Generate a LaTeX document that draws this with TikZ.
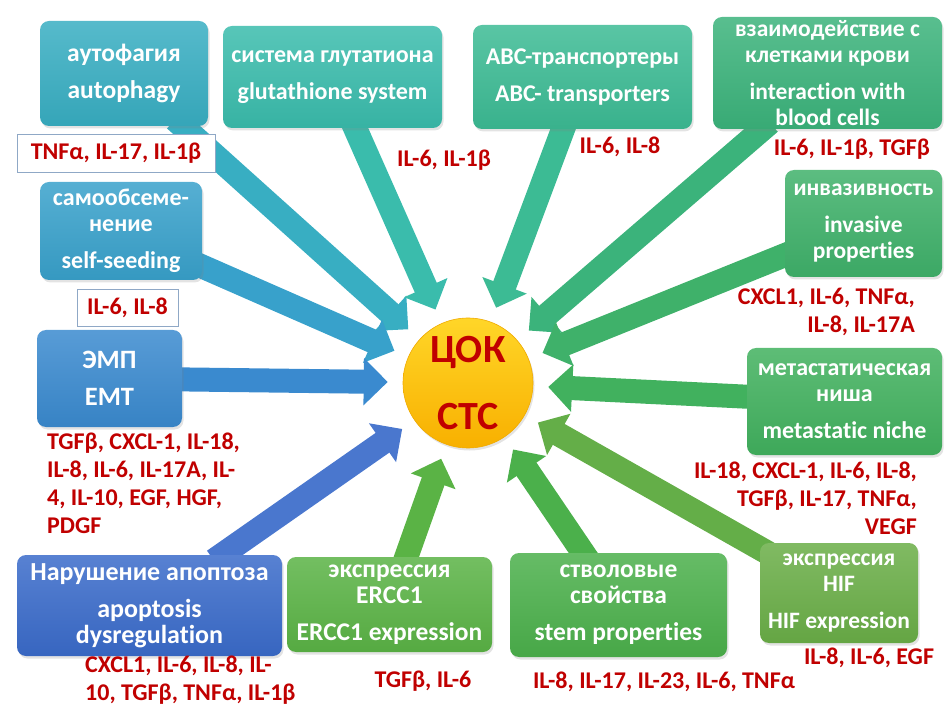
\documentclass[tikz,border=0pt]{standalone}
\usepackage{fontspec}
\setmainfont{Carlito}[Ligatures={NoCommon}]
\usetikzlibrary{arrows.meta,shadows}
\pgfdeclarelayer{bg}
\pgfsetlayers{bg,main}
\definecolor{cAuto}{HTML}{38AEC2}
\definecolor{cGlut}{HTML}{3ABCAC}
\definecolor{cABC}{HTML}{3CBB94}
\definecolor{cBlood}{HTML}{3BB37B}
\definecolor{cInv}{HTML}{3FB16A}
\definecolor{cMeta}{HTML}{41B15E}
\definecolor{cHIF}{HTML}{6AAE47}
\definecolor{cStem}{HTML}{4BB04B}
\definecolor{cERCC}{HTML}{5AB345}
\definecolor{cApo}{HTML}{3A6BCA}
\definecolor{cEMT}{HTML}{3A8ACF}
\definecolor{cSelf}{HTML}{38A1CB}
\definecolor{cRed}{HTML}{C00000}
\definecolor{cFrame}{HTML}{8FA8C6}
\tikzset{
  box/.style 2 args={rounded corners=9pt, top color=#1!85!white, bottom color=#1!95!black,
    draw=none, text=white, align=center, inner sep=2pt,
    font=\bfseries\fontsize{#2}{26}\selectfont,
    drop shadow={opacity=0.22, shadow xshift=1.5pt, shadow yshift=-2.5pt}},
  lab/.style={text=cRed, font=\bfseries\fontsize{24}{28}\selectfont, inner sep=0pt},
  labbox/.style={lab, draw=cFrame, fill=white, line width=0.8pt},
  arr/.style={line width=24pt, -{Triangle[length=24pt,width=46pt]},
    shorten >=15pt, shorten <=-10pt, draw=#1},
}
\begin{document}
\begin{tikzpicture}[x=1pt,y=-1pt]
\useasboundingbox (0,0) rectangle (945,708);
% centre
\node[circle, minimum size=130pt, inner sep=0pt, top color={rgb,255:red,255;green,214;blue,40},
  bottom color={rgb,255:red,248;green,176;blue,0}, draw={rgb,255:red,240;green,170;blue,0}, line width=0.6pt,
  text=cRed, font=\bfseries\fontsize{40}{40}\selectfont, align=center,
  drop shadow={opacity=0.22, shadow xshift=1.5pt, shadow yshift=-2.5pt}]
  (ctok) at (468,383) {ЦОК\\[27pt]СТС};
% boxes
\node[box={cAuto}{25.5}, minimum width=168pt, minimum height=105pt] (auto) at (124,73.5)
  {аутофагия\\[11pt]autophagy};
\node[box={cGlut}{24}, minimum width=219pt, minimum height=102pt] (glut) at (332.5,77)
  {система глутатиона\\[11pt]glutathione system};
\node[box={cABC}{24}, minimum width=219pt, minimum height=104pt] (abc) at (582.5,77)
  {ABC-транспортеры\\[11pt]ABC- transporters};
\node[box={cBlood}{23.5}, minimum width=229pt, minimum height=112pt] (blood) at (827.5,73)
  {взаимодействие с\\клетками крови\\[11pt]interaction with\\blood cells};
\node[box={cSelf}{24}, minimum width=162pt, minimum height=98pt] (self) at (121,231)
  {самообсеме-\\нение\\[11pt]self-seeding};
\node[box={cEMT}{26.5}, minimum width=145pt, minimum height=97pt] (emt) at (109.5,378.5)
  {ЭМП\\[11pt]EMT};
\node[box={cInv}{23.5}, minimum width=157pt, minimum height=107pt] (inv) at (863.5,223.5)
  {инвазивность\\[11pt]invasive\\properties};
\node[box={cMeta}{24}, minimum width=195pt, minimum height=107pt] (meta) at (844.5,401.5)
  {метастатическая\\ниша\\[11pt]metastatic niche};
\node[box={cApo}{26}, minimum width=265pt, minimum height=101pt] (apo) at (149.5,605.5)
  {Нарушение апоптоза\\[11pt]apoptosis\\dysregulation};
\node[box={cERCC}{25.5}, minimum width=205pt, minimum height=95pt] (ercc) at (389.5,604.5)
  {экспрессия\\ERCC1\\[11pt]ERCC1 expression};
\node[box={cStem}{25.5}, minimum width=217pt, minimum height=104pt] (stem) at (618.5,605)
  {стволовые\\свойства\\[11pt]stem properties};
\node[box={cHIF}{23.5}, minimum width=158pt, minimum height=100pt] (hif) at (839,593)
  {экспрессия\\HIF\\[11pt]HIF expression};
% arrows
\begin{pgfonlayer}{bg}
\draw[arr=cAuto] (auto) -- (ctok);
\draw[arr=cGlut] (glut) -- (ctok);
\draw[arr=cABC] (abc) -- (ctok);
\draw[arr=cBlood] (blood) -- (ctok);
\draw[arr=cSelf] (self) -- (ctok);
\draw[arr=cInv] (inv) -- (ctok);
\draw[arr=cEMT] (emt) -- (ctok);
\draw[arr=cMeta] (meta) -- (ctok);
\draw[arr=cApo!92!white] (apo) -- (ctok);
\draw[arr=cERCC] (ercc) -- (ctok);
\draw[arr=cStem] (stem) -- (ctok);
\draw[arr=cHIF!80!cStem] (hif) -- (ctok);
\end{pgfonlayer}
% labels
\node[labbox, minimum width=198pt, minimum height=38pt] (lauto) at (116,153) {TNFα, IL-17, IL-1β};
\node[lab] (lglut) at (444,160) {IL-6, IL-1β};
\node[lab] (labc) at (620,147) {IL-6, IL-8};
\node[lab] (lblood) at (852,149) {IL-6, IL-1β, TGFβ};
\node[labbox, minimum width=101pt, minimum height=37pt] (lself) at (127.5,307.5) {IL-6, IL-8};
\node[lab, anchor=north west, align=left] (lemt) at (47,433)
  {TGFβ, CXCL-1, IL-18,\\IL-8, IL-6, IL-17A, IL-\\4, IL-10, EGF, HGF,\\PDGF};
\node[lab, anchor=north east, align=right] (linv) at (915,288)
  {CXCL1, IL-6, TNFα,\\IL-8, IL-17A};
\node[lab, anchor=north east, align=right] (lmeta) at (917,462)
  {IL-18, CXCL-1, IL-6, IL-8,\\TGFβ, IL-17, TNFα,\\VEGF};
\node[lab, anchor=north west, align=left] (lapo) at (85,656)
  {CXCL1, IL-6, IL-8, IL-\\10, TGFβ, TNFα, IL-1β};
\node[lab] (lercc) at (423,681) {TGFβ, IL-6};
\node[lab] (lstem) at (664,682) {IL-8, IL-17, IL-23, IL-6, TNFα};
\node[lab] (lhif) at (869,658) {IL-8, IL-6, EGF};
\end{tikzpicture}
\end{document}
